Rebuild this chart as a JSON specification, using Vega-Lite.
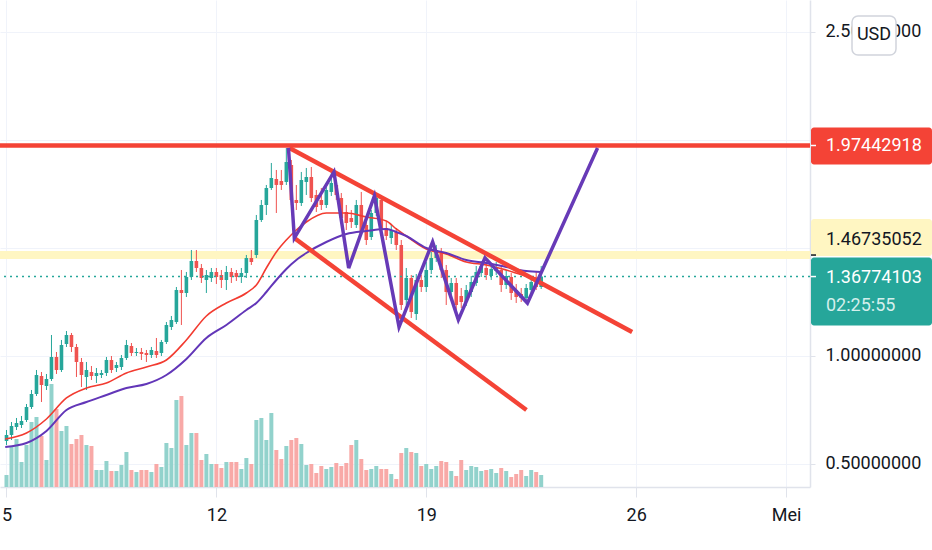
{
"$schema":"https://vega.github.io/schema/vega-lite/v6.json",
"width":810,"height":487,
"autosize":{"type":"none"},
"padding":{"left":0,"top":0,"right":122,"bottom":63},
"background":"#ffffff",
"config":{"view":{"stroke":null},"font":"Roboto","axis":{"labelFont":"Roboto","labelFontSize":18,"labelColor":"#131722","gridColor":"#f0f3fa","domainColor":"#e0e3eb","tickColor":"#e0e3eb"}},
"datasets":{
"candles":[
{"t":"2021-04-05T00:00:00Z","o":0.6065,"h":0.6574,"l":0.588,"c":0.6343,"v":12},
{"t":"2021-04-05T04:00:00Z","o":0.6343,"h":0.6944,"l":0.6111,"c":0.6759,"v":40},
{"t":"2021-04-05T08:00:00Z","o":0.6713,"h":0.713,"l":0.6574,"c":0.6898,"v":48},
{"t":"2021-04-05T12:00:00Z","o":0.6806,"h":0.7222,"l":0.6667,"c":0.6991,"v":25},
{"t":"2021-04-05T16:00:00Z","o":0.7037,"h":0.7778,"l":0.6944,"c":0.7639,"v":42},
{"t":"2021-04-05T20:00:00Z","o":0.7639,"h":0.8426,"l":0.7546,"c":0.8241,"v":65},
{"t":"2021-04-06T00:00:00Z","o":0.8241,"h":0.9352,"l":0.8148,"c":0.912,"v":70},
{"t":"2021-04-06T04:00:00Z","o":0.9074,"h":0.9259,"l":0.787,"c":0.8657,"v":51},
{"t":"2021-04-06T08:00:00Z","o":0.8611,"h":0.9167,"l":0.8426,"c":0.8935,"v":27},
{"t":"2021-04-06T12:00:00Z","o":0.8935,"h":1.0972,"l":0.8843,"c":0.9954,"v":103},
{"t":"2021-04-06T16:00:00Z","o":0.9954,"h":1.0185,"l":0.9167,"c":0.9352,"v":78},
{"t":"2021-04-06T20:00:00Z","o":0.9352,"h":1.0741,"l":0.9259,"c":1.0509,"v":56},
{"t":"2021-04-07T00:00:00Z","o":1.0556,"h":1.1157,"l":1.0417,"c":1.0972,"v":61},
{"t":"2021-04-07T04:00:00Z","o":1.0972,"h":1.1065,"l":1.0185,"c":1.0417,"v":43},
{"t":"2021-04-07T08:00:00Z","o":1.0417,"h":1.0556,"l":0.9028,"c":0.9722,"v":48},
{"t":"2021-04-07T12:00:00Z","o":0.9722,"h":0.9907,"l":0.8565,"c":0.912,"v":52},
{"t":"2021-04-07T16:00:00Z","o":0.9028,"h":0.9722,"l":0.8426,"c":0.9352,"v":42},
{"t":"2021-04-07T20:00:00Z","o":0.9259,"h":0.9537,"l":0.8889,"c":0.9074,"v":41},
{"t":"2021-04-08T00:00:00Z","o":0.9074,"h":0.9444,"l":0.875,"c":0.9213,"v":17},
{"t":"2021-04-08T04:00:00Z","o":0.912,"h":0.9352,"l":0.8981,"c":0.9213,"v":17},
{"t":"2021-04-08T08:00:00Z","o":0.9213,"h":0.9954,"l":0.9074,"c":0.9815,"v":26},
{"t":"2021-04-08T12:00:00Z","o":0.9815,"h":1.0,"l":0.9213,"c":0.9352,"v":16},
{"t":"2021-04-08T16:00:00Z","o":0.9444,"h":0.9722,"l":0.9259,"c":0.9583,"v":16},
{"t":"2021-04-08T20:00:00Z","o":0.9491,"h":1.0046,"l":0.9352,"c":0.9907,"v":22},
{"t":"2021-04-09T00:00:00Z","o":0.9907,"h":1.0741,"l":0.9815,"c":1.0509,"v":35},
{"t":"2021-04-09T04:00:00Z","o":1.0463,"h":1.0602,"l":1.0,"c":1.0139,"v":17},
{"t":"2021-04-09T08:00:00Z","o":1.0139,"h":1.037,"l":1.0,"c":1.0185,"v":15},
{"t":"2021-04-09T12:00:00Z","o":1.0185,"h":1.037,"l":0.9815,"c":1.0093,"v":17},
{"t":"2021-04-09T16:00:00Z","o":1.0139,"h":1.0278,"l":0.9722,"c":1.0046,"v":17},
{"t":"2021-04-09T20:00:00Z","o":1.0046,"h":1.0417,"l":0.9907,"c":1.0278,"v":15},
{"t":"2021-04-10T00:00:00Z","o":1.0231,"h":1.0833,"l":0.9907,"c":1.0046,"v":23},
{"t":"2021-04-10T04:00:00Z","o":1.0139,"h":1.0741,"l":1.0,"c":1.0648,"v":20},
{"t":"2021-04-10T08:00:00Z","o":1.0648,"h":1.1574,"l":1.0556,"c":1.1435,"v":44},
{"t":"2021-04-10T12:00:00Z","o":1.1343,"h":1.1852,"l":1.1204,"c":1.1667,"v":39},
{"t":"2021-04-10T16:00:00Z","o":1.1574,"h":1.3194,"l":1.1481,"c":1.3056,"v":87},
{"t":"2021-04-10T20:00:00Z","o":1.3056,"h":1.3981,"l":1.1435,"c":1.2917,"v":91},
{"t":"2021-04-11T00:00:00Z","o":1.2917,"h":1.3889,"l":1.2731,"c":1.3657,"v":42},
{"t":"2021-04-11T04:00:00Z","o":1.3657,"h":1.4907,"l":1.3519,"c":1.4398,"v":54},
{"t":"2021-04-11T08:00:00Z","o":1.4398,"h":1.4907,"l":1.3889,"c":1.4074,"v":54},
{"t":"2021-04-11T12:00:00Z","o":1.4074,"h":1.4259,"l":1.338,"c":1.3611,"v":27},
{"t":"2021-04-11T16:00:00Z","o":1.3519,"h":1.3981,"l":1.2917,"c":1.375,"v":33},
{"t":"2021-04-11T20:00:00Z","o":1.3611,"h":1.4074,"l":1.3426,"c":1.3889,"v":23},
{"t":"2021-04-12T00:00:00Z","o":1.3889,"h":1.4074,"l":1.3333,"c":1.3657,"v":23},
{"t":"2021-04-12T04:00:00Z","o":1.375,"h":1.3981,"l":1.3148,"c":1.3519,"v":19},
{"t":"2021-04-12T08:00:00Z","o":1.3519,"h":1.4167,"l":1.3056,"c":1.3889,"v":25},
{"t":"2021-04-12T12:00:00Z","o":1.3889,"h":1.4074,"l":1.338,"c":1.3657,"v":25},
{"t":"2021-04-12T16:00:00Z","o":1.3843,"h":1.3981,"l":1.3472,"c":1.3657,"v":25},
{"t":"2021-04-12T20:00:00Z","o":1.3657,"h":1.4074,"l":1.338,"c":1.3843,"v":18},
{"t":"2021-04-13T00:00:00Z","o":1.3843,"h":1.4676,"l":1.3611,"c":1.4537,"v":29},
{"t":"2021-04-13T04:00:00Z","o":1.4537,"h":1.4907,"l":1.4213,"c":1.4352,"v":23},
{"t":"2021-04-13T08:00:00Z","o":1.4676,"h":1.6528,"l":1.4537,"c":1.6296,"v":67},
{"t":"2021-04-13T12:00:00Z","o":1.6296,"h":1.7222,"l":1.6204,"c":1.6991,"v":69},
{"t":"2021-04-13T16:00:00Z","o":1.6991,"h":1.7917,"l":1.6528,"c":1.7778,"v":47},
{"t":"2021-04-13T20:00:00Z","o":1.7778,"h":1.8935,"l":1.7685,"c":1.8241,"v":74},
{"t":"2021-04-14T00:00:00Z","o":1.8194,"h":1.8611,"l":1.662,"c":1.7917,"v":37},
{"t":"2021-04-14T04:00:00Z","o":1.8102,"h":1.8611,"l":1.7685,"c":1.7917,"v":28},
{"t":"2021-04-14T08:00:00Z","o":1.8056,"h":1.963,"l":1.7917,"c":1.8981,"v":41},
{"t":"2021-04-14T12:00:00Z","o":1.8843,"h":1.9074,"l":1.6991,"c":1.7222,"v":47},
{"t":"2021-04-14T16:00:00Z","o":1.7222,"h":1.7917,"l":1.6759,"c":1.7083,"v":49},
{"t":"2021-04-14T20:00:00Z","o":1.7083,"h":1.8519,"l":1.6944,"c":1.8148,"v":43},
{"t":"2021-04-15T00:00:00Z","o":1.8056,"h":1.8704,"l":1.7454,"c":1.8287,"v":22},
{"t":"2021-04-15T04:00:00Z","o":1.8287,"h":1.875,"l":1.713,"c":1.7315,"v":23},
{"t":"2021-04-15T08:00:00Z","o":1.7454,"h":1.7685,"l":1.6667,"c":1.6898,"v":14},
{"t":"2021-04-15T12:00:00Z","o":1.7222,"h":1.7778,"l":1.6759,"c":1.6991,"v":21},
{"t":"2021-04-15T16:00:00Z","o":1.6991,"h":1.7917,"l":1.6852,"c":1.7685,"v":18},
{"t":"2021-04-15T20:00:00Z","o":1.7593,"h":1.8519,"l":1.7407,"c":1.8009,"v":20},
{"t":"2021-04-16T00:00:00Z","o":1.7917,"h":1.8148,"l":1.7222,"c":1.7454,"v":24},
{"t":"2021-04-16T04:00:00Z","o":1.7315,"h":1.7546,"l":1.6204,"c":1.6389,"v":21},
{"t":"2021-04-16T08:00:00Z","o":1.6667,"h":1.6991,"l":1.5833,"c":1.6157,"v":24},
{"t":"2021-04-16T12:00:00Z","o":1.6389,"h":1.6759,"l":1.5926,"c":1.6204,"v":42},
{"t":"2021-04-16T16:00:00Z","o":1.6065,"h":1.7222,"l":1.5926,"c":1.6991,"v":47},
{"t":"2021-04-16T20:00:00Z","o":1.6991,"h":1.7593,"l":1.5556,"c":1.5694,"v":28},
{"t":"2021-04-17T00:00:00Z","o":1.6065,"h":1.6296,"l":1.5139,"c":1.537,"v":17},
{"t":"2021-04-17T04:00:00Z","o":1.5509,"h":1.6759,"l":1.537,"c":1.662,"v":18},
{"t":"2021-04-17T08:00:00Z","o":1.662,"h":1.7546,"l":1.6481,"c":1.7315,"v":21},
{"t":"2021-04-17T12:00:00Z","o":1.7222,"h":1.7454,"l":1.5602,"c":1.5833,"v":18},
{"t":"2021-04-17T16:00:00Z","o":1.5926,"h":1.6204,"l":1.537,"c":1.5556,"v":18},
{"t":"2021-04-17T20:00:00Z","o":1.5463,"h":1.6065,"l":1.5185,"c":1.5833,"v":13},
{"t":"2021-04-18T00:00:00Z","o":1.5741,"h":1.5926,"l":1.4907,"c":1.5139,"v":8},
{"t":"2021-04-18T04:00:00Z","o":1.5139,"h":1.537,"l":1.213,"c":1.2361,"v":34},
{"t":"2021-04-18T08:00:00Z","o":1.2593,"h":1.4074,"l":1.2361,"c":1.3611,"v":39},
{"t":"2021-04-18T12:00:00Z","o":1.3611,"h":1.375,"l":1.1759,"c":1.2037,"v":35},
{"t":"2021-04-18T16:00:00Z","o":1.1944,"h":1.3796,"l":1.1667,"c":1.3519,"v":34},
{"t":"2021-04-18T20:00:00Z","o":1.3519,"h":1.375,"l":1.2963,"c":1.3194,"v":21},
{"t":"2021-04-19T00:00:00Z","o":1.3194,"h":1.4352,"l":1.2963,"c":1.3981,"v":23},
{"t":"2021-04-19T04:00:00Z","o":1.3981,"h":1.4815,"l":1.3796,"c":1.4537,"v":18},
{"t":"2021-04-19T08:00:00Z","o":1.4537,"h":1.5139,"l":1.4352,"c":1.4907,"v":21},
{"t":"2021-04-19T12:00:00Z","o":1.4815,"h":1.5,"l":1.3611,"c":1.3981,"v":26},
{"t":"2021-04-19T16:00:00Z","o":1.3981,"h":1.4213,"l":1.2361,"c":1.2963,"v":25},
{"t":"2021-04-19T20:00:00Z","o":1.2963,"h":1.3611,"l":1.2685,"c":1.338,"v":16},
{"t":"2021-04-20T00:00:00Z","o":1.338,"h":1.3611,"l":1.2037,"c":1.2361,"v":11},
{"t":"2021-04-20T04:00:00Z","o":1.2778,"h":1.3148,"l":1.2222,"c":1.25,"v":27},
{"t":"2021-04-20T08:00:00Z","o":1.25,"h":1.3287,"l":1.2315,"c":1.3056,"v":17},
{"t":"2021-04-20T12:00:00Z","o":1.2963,"h":1.3704,"l":1.2731,"c":1.3426,"v":21},
{"t":"2021-04-20T16:00:00Z","o":1.338,"h":1.4167,"l":1.3241,"c":1.3889,"v":20},
{"t":"2021-04-20T20:00:00Z","o":1.3843,"h":1.4398,"l":1.3657,"c":1.4167,"v":16},
{"t":"2021-04-21T00:00:00Z","o":1.4074,"h":1.4352,"l":1.3519,"c":1.375,"v":17},
{"t":"2021-04-21T04:00:00Z","o":1.3704,"h":1.4306,"l":1.3519,"c":1.4028,"v":18},
{"t":"2021-04-21T08:00:00Z","o":1.3935,"h":1.4352,"l":1.375,"c":1.4074,"v":14},
{"t":"2021-04-21T12:00:00Z","o":1.3981,"h":1.4213,"l":1.2963,"c":1.3287,"v":19},
{"t":"2021-04-21T16:00:00Z","o":1.3287,"h":1.3981,"l":1.3102,"c":1.3704,"v":16},
{"t":"2021-04-21T20:00:00Z","o":1.3657,"h":1.3843,"l":1.2593,"c":1.2917,"v":10},
{"t":"2021-04-22T00:00:00Z","o":1.3056,"h":1.3333,"l":1.2454,"c":1.2731,"v":13},
{"t":"2021-04-22T04:00:00Z","o":1.287,"h":1.3148,"l":1.25,"c":1.2685,"v":17},
{"t":"2021-04-22T08:00:00Z","o":1.2685,"h":1.3333,"l":1.2546,"c":1.3148,"v":11},
{"t":"2021-04-22T12:00:00Z","o":1.3056,"h":1.3611,"l":1.2824,"c":1.3426,"v":17},
{"t":"2021-04-22T16:00:00Z","o":1.3426,"h":1.3889,"l":1.3056,"c":1.3194,"v":15},
{"t":"2021-04-22T20:00:00Z","o":1.3194,"h":1.4167,"l":1.3102,"c":1.36774103,"v":12}
],
"ma":[
{"t":"2021-04-04T23:00:00Z","fast":0.6157,"slow":0.5787},
{"t":"2021-04-05T16:00:00Z","fast":0.6435,"slow":0.5972},
{"t":"2021-04-06T08:00:00Z","fast":0.7083,"slow":0.6528},
{"t":"2021-04-07T00:00:00Z","fast":0.8056,"slow":0.75},
{"t":"2021-04-07T16:00:00Z","fast":0.8519,"slow":0.787},
{"t":"2021-04-08T08:00:00Z","fast":0.875,"slow":0.8194},
{"t":"2021-04-09T00:00:00Z","fast":0.9213,"slow":0.8519},
{"t":"2021-04-09T16:00:00Z","fast":0.9491,"slow":0.8704},
{"t":"2021-04-10T08:00:00Z","fast":0.9815,"slow":0.912},
{"t":"2021-04-11T00:00:00Z","fast":1.0741,"slow":0.9861},
{"t":"2021-04-11T16:00:00Z","fast":1.1852,"slow":1.0833},
{"t":"2021-04-12T08:00:00Z","fast":1.2454,"slow":1.1435},
{"t":"2021-04-13T00:00:00Z","fast":1.2917,"slow":1.213},
{"t":"2021-04-13T08:00:00Z","fast":1.3287,"slow":1.2454},
{"t":"2021-04-13T16:00:00Z","fast":1.4074,"slow":1.2963},
{"t":"2021-04-14T00:00:00Z","fast":1.4815,"slow":1.3519},
{"t":"2021-04-14T08:00:00Z","fast":1.537,"slow":1.4028},
{"t":"2021-04-14T16:00:00Z","fast":1.5833,"slow":1.4444},
{"t":"2021-04-15T00:00:00Z","fast":1.6204,"slow":1.4769},
{"t":"2021-04-15T16:00:00Z","fast":1.662,"slow":1.5278},
{"t":"2021-04-16T08:00:00Z","fast":1.662,"slow":1.5648},
{"t":"2021-04-17T00:00:00Z","fast":1.6435,"slow":1.5787},
{"t":"2021-04-17T16:00:00Z","fast":1.625,"slow":1.588},
{"t":"2021-04-18T00:00:00Z","fast":1.588,"slow":1.5741},
{"t":"2021-04-18T08:00:00Z","fast":1.5556,"slow":1.5556},
{"t":"2021-04-19T00:00:00Z","fast":1.4954,"slow":1.5},
{"t":"2021-04-19T16:00:00Z","fast":1.4722,"slow":1.4769},
{"t":"2021-04-20T08:00:00Z","fast":1.4352,"slow":1.4444},
{"t":"2021-04-21T00:00:00Z","fast":1.4213,"slow":1.4306},
{"t":"2021-04-21T16:00:00Z","fast":1.3981,"slow":1.412},
{"t":"2021-04-22T08:00:00Z","fast":1.3704,"slow":1.3935},
{"t":"2021-04-22T20:00:00Z","fast":1.3565,"slow":1.3889}
],
"zigzag":[
{"t":"2021-04-14T09:42:00Z","p":1.963},
{"t":"2021-04-14T14:24:00Z","p":1.546},
{"t":"2021-04-15T22:06:00Z","p":1.852},
{"t":"2021-04-16T09:54:00Z","p":1.407},
{"t":"2021-04-17T06:30:00Z","p":1.741},
{"t":"2021-04-18T02:12:00Z","p":1.134},
{"t":"2021-04-19T05:06:00Z","p":1.528},
{"t":"2021-04-20T01:42:00Z","p":1.167},
{"t":"2021-04-20T23:00:00Z","p":1.454},
{"t":"2021-04-22T09:00:00Z","p":1.245},
{"t":"2021-04-24T17:06:00Z","p":1.963}
],
"trend":[
{"seg":"upper","t":"2021-04-14T10:30:00Z","p":1.963},
{"seg":"upper","t":"2021-04-25T20:48:00Z","p":1.1111},
{"seg":"lower","t":"2021-04-14T14:24:00Z","p":1.5463},
{"seg":"lower","t":"2021-04-22T08:12:00Z","p":0.75}
],
"levels":[
{"name":"resistance","p":1.97442918},
{"name":"level","p":1.46735052},
{"name":"last","p":1.36774103,"countdown":"02:25:55"}
],
"unit":[{"p":2.5,"unit":"USD"}]
},
"resolve":{"scale":{"y":"independent"}},
"layer":[
{"data":{"name":"candles"},
 "mark":{"type":"bar","width":4},
 "encoding":{
  "x":{"field":"t","type":"temporal","title":null,
   "scale":{"type":"utc","domain":[{"year":2021,"month":4,"date":4,"hours":22,"minutes":48,"utc":true},{"year":2021,"month":5,"date":1,"hours":15,"minutes":10,"utc":true}]},
   "axis":{"values":[{"year":2021,"month":4,"date":5,"utc":true},{"year":2021,"month":4,"date":12,"utc":true},{"year":2021,"month":4,"date":19,"utc":true},{"year":2021,"month":4,"date":26,"utc":true},{"year":2021,"month":5,"date":1,"utc":true}],
    "labelExpr":"utcdate(datum.value) == 1 ? 'Mei' : utcFormat(datum.value, '%-d')",
    "grid":true,"tickSize":10,"labelPadding":9,"labelFlush":false,"labelOverlap":false,"title":null,"domainWidth":1.5}},
  "y":{"field":"v","type":"quantitative","scale":{"domain":[0,487],"nice":false},"axis":null},
  "color":{"condition":{"test":"datum.c >= datum.o","value":"#92d2cc"},"value":"#f8a9a7"}
 }},
{"layer":[
 {"data":{"name":"levels"},"transform":[{"filter":"datum.name == 'level'"}],
  "mark":{"type":"rule","color":"#fff6c2","strokeWidth":8},
  "encoding":{"y":{"field":"p","type":"quantitative","scale":{"domain":[0.3935,2.648],"nice":false,"zero":false},
   "axis":{"orient":"right","values":[0.5,1,1.5,2,2.5],"labelExpr":"datum.value == 1.5 || datum.value == 2 ? '' : format(datum.value, '.8f')","grid":true,"tickSize":5,"labelPadding":10,"title":null,"labelBaseline":"middle","domainWidth":1.5}}}},
 {"data":{"name":"candles"},
  "mark":{"type":"rule","strokeWidth":1},
  "encoding":{"x":{"field":"t","type":"temporal","title":null},
   "y":{"field":"l","type":"quantitative","title":null},"y2":{"field":"h"},
   "color":{"condition":{"test":"datum.c >= datum.o","value":"#26a69a"},"value":"#ef5350"}}},
 {"data":{"name":"candles"},
  "mark":{"type":"bar","width":3.6},
  "encoding":{"x":{"field":"t","type":"temporal","title":null},
   "y":{"field":"o","type":"quantitative","title":null},"y2":{"field":"c"},
   "color":{"condition":{"test":"datum.c >= datum.o","value":"#26a69a"},"value":"#ef5350"}}},
 {"data":{"name":"levels"},"transform":[{"filter":"datum.name == 'last'"}],
  "mark":{"type":"rule","color":"#26a69a","strokeWidth":1.5,"strokeDash":[2,4]},
  "encoding":{"y":{"field":"p","type":"quantitative","title":null}}},
 {"data":{"name":"ma"},
  "mark":{"type":"line","color":"#f23b30","strokeWidth":1.6,"interpolate":"monotone"},
  "encoding":{"x":{"field":"t","type":"temporal","title":null},"y":{"field":"fast","type":"quantitative","title":null}}},
 {"data":{"name":"ma"},
  "mark":{"type":"line","color":"#6236b8","strokeWidth":2,"interpolate":"monotone"},
  "encoding":{"x":{"field":"t","type":"temporal","title":null},"y":{"field":"slow","type":"quantitative","title":null}}},
 {"data":{"name":"levels"},"transform":[{"filter":"datum.name == 'resistance'"}],
  "mark":{"type":"rule","color":"#f44336","strokeWidth":4.5},
  "encoding":{"y":{"field":"p","type":"quantitative","title":null}}},
 {"data":{"name":"trend"},
  "mark":{"type":"line","color":"#f44336","strokeWidth":4.5},
  "encoding":{"x":{"field":"t","type":"temporal","title":null},"y":{"field":"p","type":"quantitative","title":null},"detail":{"field":"seg"}}},
 {"data":{"name":"zigzag"},
  "mark":{"type":"line","color":"#673ab7","strokeWidth":3.5,"strokeJoin":"miter"},
  "encoding":{"x":{"field":"t","type":"temporal","title":null},"y":{"field":"p","type":"quantitative","title":null}}},
 {"data":{"name":"levels"},"transform":[{"filter":"datum.name == 'resistance'"}],
  "mark":{"type":"rect","fill":"#f44336","cornerRadius":3,"x":{"expr":"width+1"},"x2":{"expr":"width+122"},"yOffset":-18,"y2Offset":19},
  "encoding":{"y":{"field":"p","type":"quantitative","title":null},"y2":{"field":"p"}}},
 {"data":{"name":"levels"},"transform":[{"filter":"datum.name == 'level'"}],
  "mark":{"type":"rect","fill":"#fff6c2","cornerRadius":3,"x":{"expr":"width+1"},"x2":{"expr":"width+122"},"yOffset":-36,"y2Offset":1},
  "encoding":{"y":{"field":"p","type":"quantitative","title":null},"y2":{"field":"p"}}},
 {"data":{"name":"levels"},"transform":[{"filter":"datum.name == 'last'"}],
  "mark":{"type":"rect","fill":"#26a69a","cornerRadius":3,"x":{"expr":"width+1"},"x2":{"expr":"width+122"},"yOffset":-19,"y2Offset":49},
  "encoding":{"y":{"field":"p","type":"quantitative","title":null},"y2":{"field":"p"}}},
 {"data":{"name":"levels"},"transform":[{"filter":"datum.name != 'level'"}],
  "mark":{"type":"rule","color":"#ffffff","strokeWidth":1.5,"x":{"expr":"width+1"},"x2":{"expr":"width+6"}},
  "encoding":{"y":{"field":"p","type":"quantitative","title":null}}},
 {"data":{"name":"levels"},"transform":[{"filter":"datum.name == 'level'"}],
  "mark":{"type":"rule","color":"#131722","strokeWidth":1.5,"x":{"expr":"width+1"},"x2":{"expr":"width+6"}},
  "encoding":{"y":{"field":"p","type":"quantitative","title":null}}},
 {"data":{"name":"levels"},"transform":[{"filter":"datum.name == 'resistance'"}],
  "mark":{"type":"text","x":{"expr":"width+16"},"align":"left","baseline":"middle","dy":1,"fontSize":18,"color":"#ffffff","font":"Roboto"},
  "encoding":{"y":{"field":"p","type":"quantitative","title":null},"text":{"field":"p","format":".8f"}}},
 {"data":{"name":"levels"},"transform":[{"filter":"datum.name == 'level'"}],
  "mark":{"type":"text","x":{"expr":"width+16"},"align":"left","baseline":"middle","dy":-15,"fontSize":18,"color":"#131722","font":"Roboto"},
  "encoding":{"y":{"field":"p","type":"quantitative","title":null},"text":{"field":"p","format":".8f"}}},
 {"data":{"name":"levels"},"transform":[{"filter":"datum.name == 'last'"}],
  "mark":{"type":"text","x":{"expr":"width+16"},"align":"left","baseline":"middle","dy":1,"fontSize":18,"color":"#ffffff","font":"Roboto"},
  "encoding":{"y":{"field":"p","type":"quantitative","title":null},"text":{"field":"p","format":".8f"}}},
 {"data":{"name":"levels"},"transform":[{"filter":"datum.name == 'last'"}],
  "mark":{"type":"text","x":{"expr":"width+16"},"align":"left","baseline":"middle","dy":29,"fontSize":18,"color":"#d4efec","font":"Roboto"},
  "encoding":{"y":{"field":"p","type":"quantitative","title":null},"text":{"field":"countdown"}}},
 {"data":{"name":"unit"},
  "mark":{"type":"rect","fill":"#ffffff","stroke":"#d1d4dc","strokeWidth":1.5,"cornerRadius":6,"x":{"expr":"width+42"},"x2":{"expr":"width+86"},"yOffset":-16,"y2Offset":23},
  "encoding":{"y":{"field":"p","type":"quantitative","title":null},"y2":{"field":"p"}}},
 {"data":{"name":"unit"},
  "mark":{"type":"text","x":{"expr":"width+64"},"align":"center","baseline":"middle","dy":3,"fontSize":18,"color":"#131722","font":"Roboto"},
  "encoding":{"y":{"field":"p","type":"quantitative","title":null},"text":{"field":"unit"}}}
]}
]
}
